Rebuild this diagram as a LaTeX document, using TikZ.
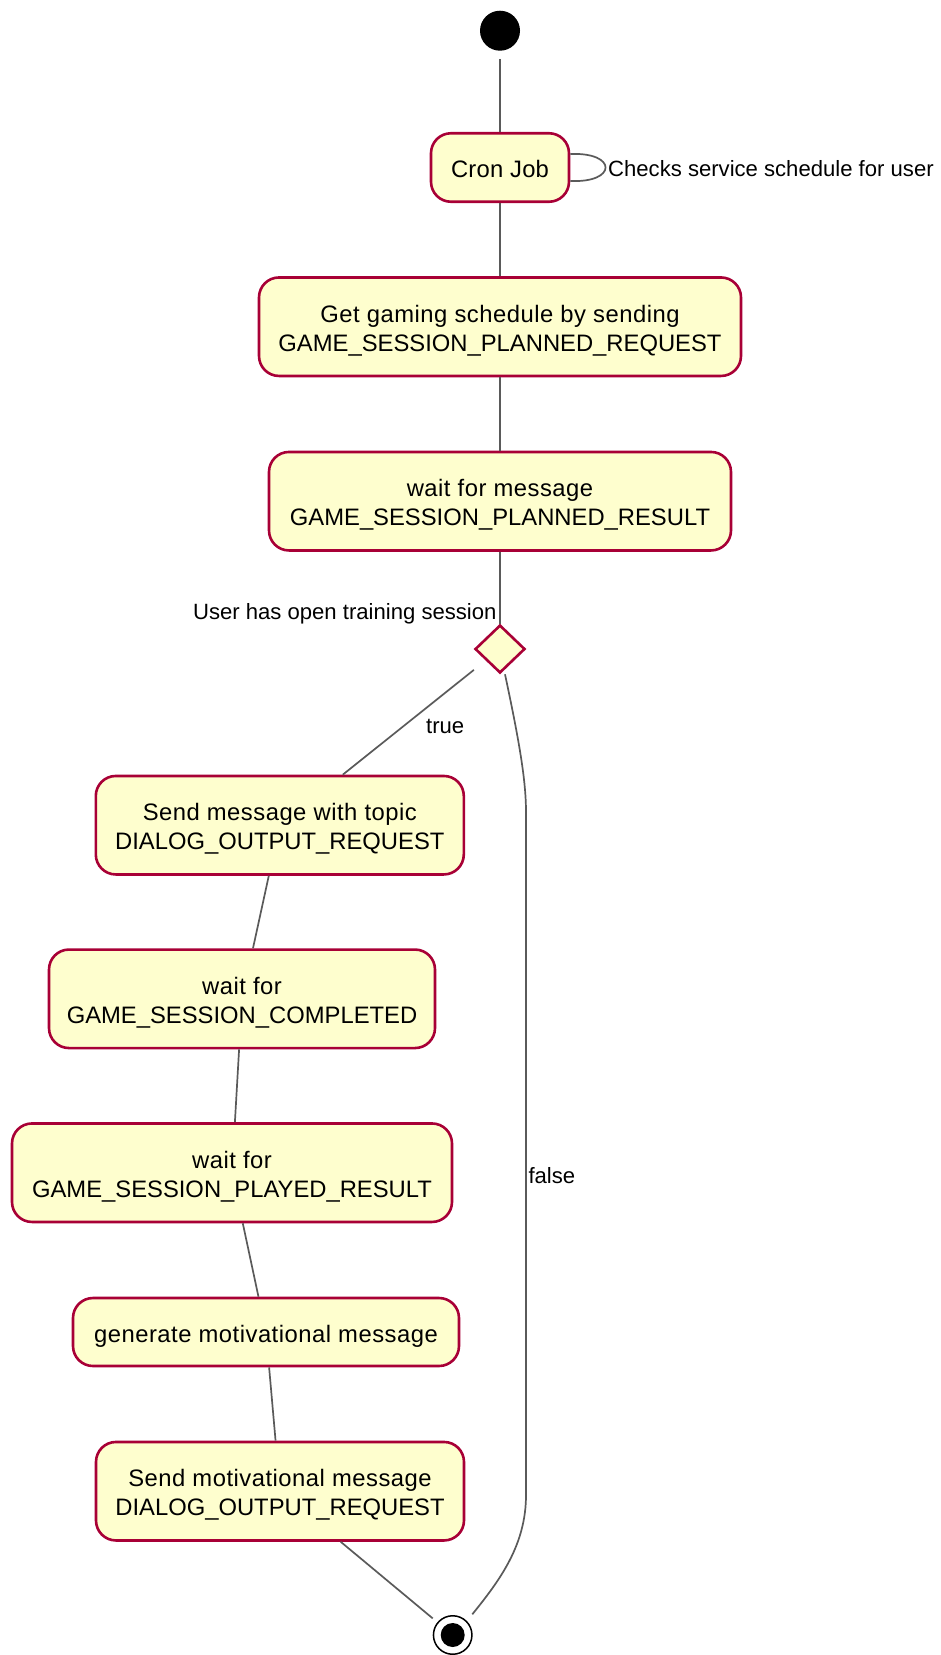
\documentclass[tikz,border=0pt]{standalone}
\usepackage{fontspec}
\setmainfont{Liberation Sans}
\usetikzlibrary{shapes.geometric,calc}
\definecolor{actfill}{HTML}{FEFECE}
\definecolor{actborder}{HTML}{A80036}
\definecolor{flow}{HTML}{5A5A5A}
% fixed ascent/descent so every text block sits the same way in its box
\newcommand\tophold{\rule{0pt}{26pt}}
\newcommand\bothold{\rule[-6pt]{0pt}{6pt}}
% slightly looser tracking for mixed-case lines
\newcommand\loose{\addfontfeatures{LetterSpace=2.1}}
\begin{document}
\begin{tikzpicture}[x=1pt,y=-1pt,
  activity/.style={draw=actborder,fill=actfill,line width=2.6pt,rounded corners=20pt,
    align=center,inner sep=0pt,font=\fontsize{23.8}{29}\selectfont},
  decision/.style={draw=actborder,fill=actfill,line width=2.6pt,diamond,inner sep=0pt,
    minimum width=50pt,minimum height=48pt},
  conn/.style={draw=flow,line width=1.7pt},
  lbl/.style={inner sep=0pt,font=\fontsize{22.1}{26}\selectfont},
]
\useasboundingbox (0,0) rectangle (941,1655);

% start and end markers
\node[circle,fill=black,minimum size=40pt,inner sep=0pt] (start) at (500,30.7) {};
\node[circle,draw=black,line width=1.5pt,fill=white,minimum size=38.5pt,inner sep=0pt] (end) at (452.7,1635) {};
\node[circle,fill=black,minimum size=24pt,inner sep=0pt] (endin) at (end) {};

% activities
\node[activity,minimum width=138pt,minimum height=68.5pt] (cron) at (500,167.5)
  {\tophold{\addfontfeatures{LetterSpace=1}Cron Job}\bothold};
\node[activity,minimum width=482pt,minimum height=98.5pt] (get) at (500,326.7)
  {\tophold{\loose Get gaming schedule by sending}\\GAME\_SESSION\_PLANNED\_REQUEST\bothold};
\node[activity,minimum width=462pt,minimum height=98.5pt] (waitp) at (500,501.2)
  {\tophold{\loose wait for message}\\GAME\_SESSION\_PLANNED\_RESULT\bothold};
\node[decision] (dec) at (500,649) {};
\node[activity,minimum width=368pt,minimum height=98.5pt] (send) at (279.8,825.2)
  {\tophold{\loose Send message with topic}\\DIALOG\_OUTPUT\_REQUEST\bothold};
\node[activity,minimum width=386pt,minimum height=98.5pt] (waitc) at (242,998.8)
  {\tophold{\loose wait for}\\GAME\_SESSION\_COMPLETED\bothold};
\node[activity,minimum width=440pt,minimum height=98.5pt] (waitr) at (232,1172.7)
  {\tophold{\loose wait for}\\GAME\_SESSION\_PLAYED\_RESULT\bothold};
\node[activity,minimum width=386pt,minimum height=68pt] (gen) at (266,1332)
  {\tophold{\loose generate motivational message}\bothold};
\node[activity,minimum width=368pt,minimum height=98.5pt] (sendm) at (280,1491.2)
  {\tophold{\loose Send motivational message}\\DIALOG\_OUTPUT\_REQUEST\bothold};

% flows
\draw[conn,shorten <=8pt] (start) -- (cron);
\draw[conn] ($(cron.east)+(0,-13.5)$) .. controls +(47,-2) and +(47,2) .. ($(cron.east)+(0,13.5)$);
\draw[conn] (cron) -- (get);
\draw[conn] (get) -- (waitp);
\draw[conn] (waitp) -- (dec);
\draw[conn,shorten <=15pt] (dec) -- (send);
\draw[conn] (send) -- (waitc);
\draw[conn] (waitc) -- (waitr);
\draw[conn] (waitr) -- (gen);
\draw[conn] (gen) -- (sendm);
\draw[conn,shorten >=6pt] (sendm) -- (end);
\coordinate (f1) at (526,812);
\coordinate (f2) at (526,1495);
\draw[conn] ([xshift=5pt]dec.south) .. controls (519,740) and (526,780) .. (f1)
  -- (f2) .. controls (526,1545) and (500,1580) .. ([shift={(19.6,-20.7)}]end.center);

% labels
\node[lbl,anchor=base west] (lself) at (608,176) {Checks service schedule for user};
\node[lbl,anchor=base east] (lcond) at (496.7,619) {User has open training session};
\node[lbl,anchor=base west] (ltrue) at (426,733.3) {true};
\node[lbl,anchor=base west] (lfalse) at (528.3,1183) {false};
\end{tikzpicture}
\end{document}
